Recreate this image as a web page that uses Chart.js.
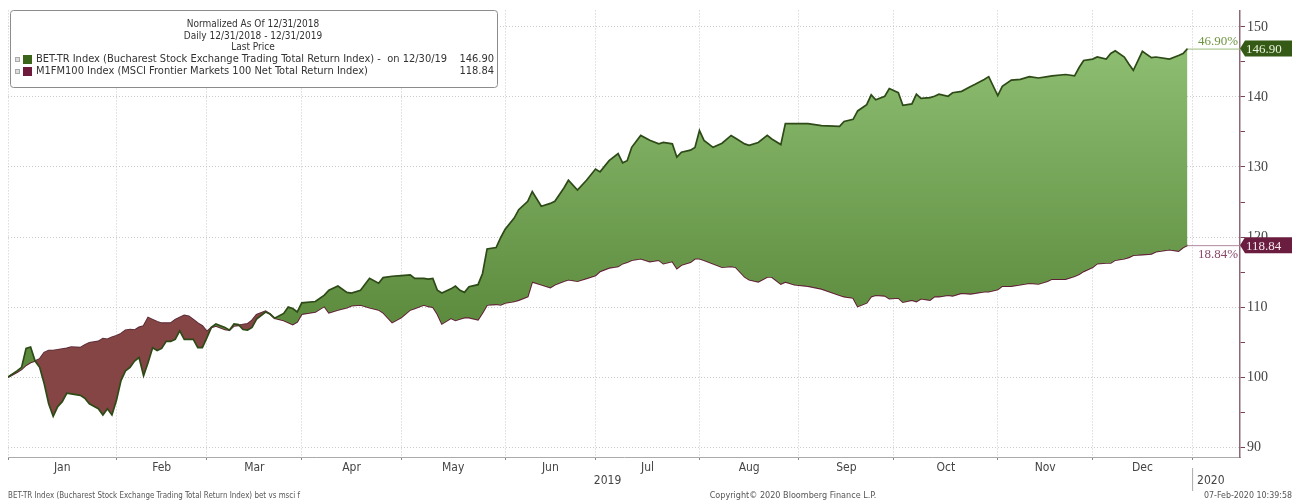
<!DOCTYPE html>
<html>
<head>
<meta charset="utf-8">
<script src="https://cdn.jsdelivr.net/npm/chart.js@4.4.0/dist/chart.umd.min.js"></script>
<style>
html, body { margin: 0; padding: 0; background: #fff; }
#wrap { width: 1292px; height: 502px; position: relative; }
</style>
</head>
<body>
<div id="wrap"><canvas id="chart"></canvas></div>
<script>
// trading-day index since 12/31/2018 (weekdays only)
var tradingDay = [0,2,3,4,5,6,7,8,9,10,11,12,13,14,16,17,18,20,21,22,23,24,25,26,27,28,29,30,31,32,33,34,35,36,37,38,39,40,41,42,43,44,45,46,48,49,50,51,52,53,54,55,57,58,59,61,62,63,64,
  65,68,70,71,73,75,76,78,80,82,83,85,87,89,90,92,93,94,95,96,98,99,100,101,102,104,105,106,108,109,110,112,113,115,116,118,120,121,123,124,126,128,130,
  131,133,135,136,137,138,140,142,144,145,147,148,149,151,152,153,154,156,158,160,161,163,164,166,168,169,171,172,174,177,180,184,185,187,188,190,191,192,194,195,
  197,198,200,201,202,204,205,206,208,209,211,213,214,216,217,219,220,222,224,226,228,230,231,234,236,237,238,240,241,243,244,245,247,248,249,251,253,254,257,259,260,261];

var betValues = [100.0,100.9,101.4,104.1,104.3,102.3,101.4,99.1,96.2,94.4,95.8,96.5,97.7,97.6,97.4,97.0,96.2,95.5,94.6,95.5,94.6,96.7,99.5,100.9,101.4,102.3,102.8,100.2,102.1,104.2,103.8,104.1,105.1,105.1,105.4,106.6,105.4,105.4,105.4,104.2,104.2,105.6,107.1,107.6,107.1,106.7,107.6,107.5,106.8,106.7,107.1,108.3,109.3,109.0,108.4,109.1,110.0,109.8,109.3,
  110.6,110.8,111.7,112.4,113.0,112.1,112.0,112.4,114.1,113.4,114.2,114.4,114.5,114.6,114.1,114.1,114.0,114.1,112.4,112.0,112.6,113.0,112.4,112.1,112.9,113.2,114.8,118.3,118.5,119.9,121.1,122.7,123.9,125.1,126.5,124.4,124.8,125.1,127.0,128.1,126.7,128.1,129.7,
  129.3,130.9,131.9,130.6,130.9,132.8,134.5,133.8,133.3,133.5,133.3,131.4,132.1,132.4,132.8,135.2,133.8,132.8,133.4,134.5,134.1,133.3,133.1,133.5,134.5,134.0,133.2,136.2,136.2,136.2,135.9,135.8,136.5,136.8,138.0,138.9,140.3,139.6,140.1,141.2,
  140.6,138.8,139.0,140.4,139.8,139.9,140.1,140.4,140.1,140.6,140.8,141.5,141.8,142.5,142.9,140.2,141.5,142.4,142.5,142.9,142.7,142.9,143.0,143.2,143.0,144.2,145.2,145.4,145.7,145.4,146.2,146.6,145.7,144.7,143.8,146.5,145.6,145.7,145.4,145.9,146.2,146.90];

var msciValues = [100.0,100.7,101.1,101.7,102.1,102.3,102.6,103.5,103.8,103.8,103.9,104.0,104.1,104.3,104.2,104.6,104.9,105.1,105.5,105.4,105.7,105.9,106.2,106.7,106.8,106.7,107.1,107.3,108.5,108.2,107.9,107.7,107.7,107.7,108.2,108.5,108.8,108.7,108.2,107.7,107.3,106.5,107.1,107.3,106.8,106.7,107.3,107.4,107.5,107.6,108.1,108.9,109.4,109.0,108.4,108.1,107.8,107.5,107.9,
  109.0,109.3,110.1,109.2,109.6,109.9,110.2,110.3,109.9,109.6,109.2,107.8,108.5,109.6,109.8,110.3,110.1,110.0,109.0,107.6,108.4,108.1,108.3,108.5,108.5,108.2,109.2,110.3,110.4,110.3,110.6,110.8,111.0,111.5,113.6,113.2,112.8,113.2,113.7,113.9,113.7,114.1,114.5,
  115.1,115.6,115.8,116.2,116.4,116.7,116.9,116.5,116.7,116.2,116.5,115.5,116.0,116.4,116.9,116.9,116.7,116.2,115.7,115.8,115.7,114.3,113.9,113.6,114.3,114.3,113.3,113.6,113.2,113.0,112.6,111.7,111.5,111.3,110.1,110.6,111.5,111.7,111.6,111.2,
  111.3,110.7,111.0,110.8,111.2,111.0,111.5,111.5,111.7,111.6,112.0,111.9,112.0,112.2,112.2,112.5,113.0,113.0,113.2,113.4,113.3,113.7,114.0,114.0,114.4,114.7,115.1,115.7,116.2,116.3,116.3,116.7,116.9,117.1,117.4,117.5,117.6,117.9,118.2,118.0,118.5,118.84];

var monthNames = ['Jan','Feb','Mar','Apr','May','Jun','Jul','Aug','Sep','Oct','Nov','Dec'];
var monthStarts = [0,24,44,65,87,110,130,153,175,196,219,240,262];
var yTicks = [90,95,100,105,110,115,120,125,130,135,140,145,150];

var betName = 'BET-TR Index (Bucharest Stock Exchange Trading Total Return Index) -  on 12/30/19';
var msciName = 'M1FM100 Index (MSCI Frontier Markets 100 Net Total Return Index)';

var smallFont = '"DejaVu Sans Condensed", "DejaVu Sans", sans-serif';
var numFont = '"Liberation Serif", serif';

var monthMid = {};
for (var m = 0; m < 12; m++) monthMid[(monthStarts[m] + monthStarts[m + 1]) / 2] = monthNames[m];
var isStart = function (v) { return monthStarts.indexOf(v) >= 0; };

var ctx = document.getElementById('chart').getContext('2d');
var greenFill = ctx.createLinearGradient(0, 40, 0, 330);
greenFill.addColorStop(0, '#8fbf72');
greenFill.addColorStop(1, '#5b8a3d');

var overlay = {
  id: 'overlay',
  afterDraw: function (chart) {
    var c = chart.ctx, xs = chart.scales.x, ys = chart.scales.y;
    var n = tradingDay.length - 1;
    var xEnd = xs.getPixelForValue(tradingDay[n]);
    var right = ys.left;
    c.save();

    // legend box
    c.fillStyle = '#fff';
    c.strokeStyle = '#8c8c8c';
    c.lineWidth = 1;
    c.beginPath();
    c.roundRect(10.5, 10.5, 487, 77, 3);
    c.fill(); c.stroke();
    c.fillStyle = '#333';
    c.font = '10px ' + smallFont;
    c.textAlign = 'center'; c.textBaseline = 'middle';
    c.fillText('Normalized As Of 12/31/2018', 253, 24);
    c.fillText('Daily 12/31/2018 - 12/31/2019', 253, 36);
    c.fillText('Last Price', 253, 47);
    c.font = '11px ' + smallFont;
    var rows = [[betName, betValues[n].toFixed(2), '#3b6518', 59], [msciName, msciValues[n].toFixed(2), '#6e1a3c', 71]];
    rows.forEach(function (r) {
      c.fillStyle = '#ddd'; c.fillRect(15, r[3] - 2, 5, 5);
      c.strokeStyle = '#aaa'; c.strokeRect(15.5, r[3] - 1.5, 4, 4);
      c.fillStyle = r[2]; c.fillRect(23, r[3] - 4, 9, 9);
      c.fillStyle = '#333';
      c.textAlign = 'left'; c.fillText(r[0], 36, r[3]);
      c.textAlign = 'right'; c.fillText(r[1], 494, r[3]);
    });

    // year labels under the months
    c.font = '12px ' + smallFont;
    c.fillStyle = '#444';
    c.textAlign = 'center';
    c.fillText('2019', (xs.getPixelForValue(monthStarts[6]) + 12), 481);
    var x2020 = xs.getPixelForValue(monthStarts[12]);
    c.strokeStyle = '#aaa'; c.lineWidth = 1;
    c.beginPath(); c.moveTo(x2020 + 0.5, 468); c.lineTo(x2020 + 0.5, 491); c.stroke();
    c.textAlign = 'left';
    c.fillText('2020', x2020 + 5, 481);

    // footer
    c.font = '9px ' + smallFont;
    c.fillStyle = '#555';
    c.textAlign = 'left';
    c.fillText('BET-TR Index (Bucharest Stock Exchange Trading Total Return Index) bet vs msci f', 8, 496, 292);
    c.textAlign = 'center';
    c.fillText('Copyright\u00a9 2020 Bloomberg Finance L.P.', 793, 496);
    c.textAlign = 'right';
    c.fillText('07-Feb-2020 10:39:58', 1292, 496, 88);

    // last value leaders, percent labels and tags
    var marks = [
      [betValues[n], '#9cbc7c', '#6f9443', '#355a16', '#eaf3dc', -7],
      [msciValues[n], '#b08aa0', '#8a4a6a', '#6b1d3f', '#f5e6ee', 9]
    ];
    marks.forEach(function (mk) {
      var y = ys.getPixelForValue(mk[0]);
      c.strokeStyle = mk[1]; c.lineWidth = 1;
      c.beginPath(); c.moveTo(xEnd, y + 0.5); c.lineTo(right, y + 0.5); c.stroke();
      c.font = '13px ' + numFont;
      c.fillStyle = mk[2];
      c.textAlign = 'right';
      c.fillText((mk[0] - 100).toFixed(2) + '%', right - 2, y + mk[5]);
      c.fillStyle = mk[3];
      c.beginPath();
      c.moveTo(right, y); c.lineTo(right + 5, y - 8); c.lineTo(1292, y - 8);
      c.lineTo(1292, y + 8); c.lineTo(right + 5, y + 8); c.closePath();
      c.fill();
      c.fillStyle = mk[4];
      c.textAlign = 'left';
      c.fillText(mk[0].toFixed(2), right + 6, y + 1);
    });
    c.restore();
  }
};

new Chart(ctx, {
  type: 'line',
  data: {
    datasets: [{
      label: 'BET-TR Index',
      data: tradingDay.map(function (d, k) { return { x: d, y: betValues[k] }; }),
      borderColor: '#2d4a17',
      borderWidth: 1.7,
      pointRadius: 0,
      fill: { target: 1, above: greenFill, below: '#864545' }
    }, {
      label: 'M1FM100 Index',
      data: tradingDay.map(function (d, k) { return { x: d, y: msciValues[k] }; }),
      borderColor: '#5c1f36',
      borderWidth: 1.7,
      pointRadius: 0,
      fill: false
    }]
  },
  options: {
    responsive: true,
    maintainAspectRatio: false,
    animation: false,
    layout: { padding: { left: 8, top: 5, right: 0, bottom: 0 } },
    plugins: { legend: { display: false }, tooltip: { enabled: false } },
    scales: {
      x: {
        type: 'linear',
        min: 0,
        max: 272.6,
        afterBuildTicks: function (scale) {
          var t = monthStarts.concat(Object.keys(monthMid).map(Number));
          t.sort(function (a, b) { return a - b; });
          scale.ticks = t.map(function (v) { return { value: v }; });
        },
        afterFit: function (scale) { scale.height = 45; },
        ticks: {
          autoSkip: false,
          maxRotation: 0,
          padding: 1,
          color: '#444',
          font: { family: smallFont, size: 12 },
          callback: function (v) { return monthMid[v] || ''; }
        },
        grid: {
          color: function (c) { return c.tick && isStart(c.tick.value) ? '#cacaca' : 'rgba(0,0,0,0)'; },
          tickColor: function (c) { return c.tick && isStart(c.tick.value) ? '#888' : 'rgba(0,0,0,0)'; },
          tickLength: 3
        },
        border: { color: '#aaa', dash: [1, 2] }
      },
      y: {
        position: 'right',
        min: 88.6,
        max: 152.35,
        afterBuildTicks: function (scale) {
          scale.ticks = yTicks.map(function (v) { return { value: v }; });
        },
        afterFit: function (scale) { scale.width = 52; },
        ticks: {
          padding: 2,
          color: '#444',
          font: { family: numFont, size: 14 },
          callback: function (v) { return v % 10 === 0 ? String(v) : ''; }
        },
        grid: {
          color: function (c) { return c.tick && c.tick.value % 10 === 0 ? '#cacaca' : 'rgba(0,0,0,0)'; },
          tickColor: '#7a4056',
          tickLength: 5
        },
        border: { color: '#8e6878', width: 1.5, dash: [1, 2] }
      }
    }
  },
  plugins: [overlay]
});
</script>
</body>
</html>
